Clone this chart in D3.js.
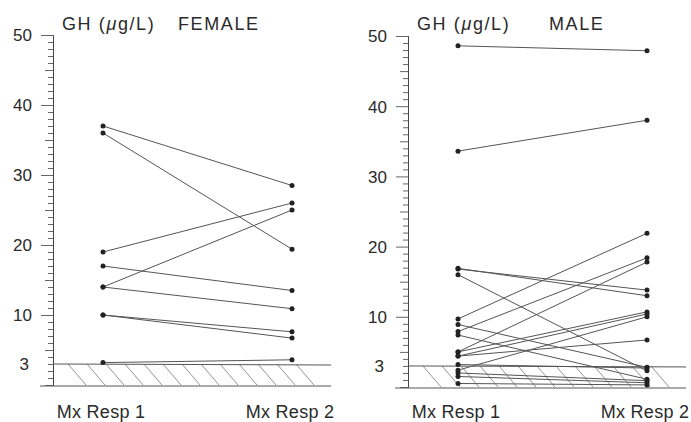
<!DOCTYPE html>
<html>
<head>
<meta charset="utf-8">
<script src="https://cdn.jsdelivr.net/npm/d3@7"></script>
<style>
body { margin: 0; background: #fff; }
svg text { font-family: "Liberation Sans", Arial, sans-serif; fill: #2a2a2a; }
</style>
</head>
<body>
<script>
// values (GH, ug/L)
var femaleResp1 = [37, 36, 19, 17, 14, 14, 10, 10, 3.2];
var femaleResp2 = [28.5, 19.4, 26, 13.5, 25, 10.9, 7.6, 6.7, 3.6];

var maleResp1 = [48.6, 33.6, 16.8, 16.9, 16.0, 9.7, 8.9, 7.9, 7.4, 5.0, 5.0, 4.4, 4.4, 3.2, 2.4, 2.0, 1.5, 0.5];
var maleResp2 = [47.9, 38.0, 13.8, 13.0, 2.3, 21.9, 2.8, 18.4, 1.1, 17.8, 10.7, 6.7, 10.4, 2.7, 10.0, 0.9, 0.6, 0.3];

var xLabels = ["Mx Resp 1", "Mx Resp 2"];
var majorTicks = [10, 20, 30, 40, 50];
var limit = 3;

function graph(){
	var svg = d3.select("body")
				.append("svg")
				.attr("width", 691)
				.attr("height", 422);

	panel(svg, 0, femaleResp1, femaleResp2, "FEMALE", 178, [385, 35]);
	panel(svg, 355, maleResp1, maleResp2, "MALE", 549, [387, 36]);
}

function panel(svg, dx, resp1, resp2, sex, sexX, yRange){
	var g = svg.append("g").attr("transform", "translate(" + dx + ",0)");

	var yScale = d3.scaleLinear().domain([0, 50]).range(yRange);
	var xScale = d3.scalePoint().domain(xLabels).range([103, 292]);

	// minor ticks every unit, longer ones at the fives
	var minorAxis = d3.axisLeft().scale(yScale)
		.tickValues(d3.range(0, 51).filter(function(v){ return v % 10 != 0 || v == 0; }))
		.tickSize(5)
		.tickFormat("");
	var midTicks = g.append("g")
		.attr("transform", "translate(53,0)")
		.call(minorAxis);
	midTicks.selectAll(".tick line")
		.attr("x2", function(v){ return v % 5 == 0 ? -8 : -5; });

	var majorAxis = d3.axisLeft().scale(yScale)
		.tickValues(majorTicks)
		.tickSize(12)
		.tickPadding(9)
		.tickSizeOuter(0);
	var yAx = g.append("g")
		.attr("transform", "translate(53,0)")
		.call(majorAxis);
	yAx.selectAll("text").style("font-size", "17px").attr("dy", "0.35em");

	g.selectAll(".domain").attr("stroke", "#444");
	g.selectAll(".tick line").attr("stroke", "#666");

	g.append("text")
		.attr("x", 29)
		.attr("y", yScale(limit) + 6)
		.attr("text-anchor", "end")
		.style("font-size", "17px")
		.text(limit);

	// hatched area below the detection limit
	var top = yScale(limit), bottom = yScale(0);
	var hatch = d3.range(68, 310, 19);
	g.selectAll(".hatch")
		.data(hatch)
		.enter()
		.append("line")
		.attr("x1", function(d){ return d; })
		.attr("x2", function(d){ return d + 18; })
		.attr("y1", top)
		.attr("y2", bottom)
		.attr("stroke", "#777")
		.attr("stroke-width", 0.8);

	g.append("line")
		.attr("x1", 53).attr("x2", 331)
		.attr("y1", top).attr("y2", top + 1)
		.attr("stroke", "#555");
	g.append("line")
		.attr("x1", 40).attr("x2", 331)
		.attr("y1", bottom + 1).attr("y2", bottom + 1)
		.attr("stroke", "#555");

	var pairs = resp1.map(function(v, i){ return [v, resp2[i]]; });

	g.selectAll(".pair")
		.data(pairs)
		.enter()
		.append("line")
		.attr("x1", xScale(xLabels[0]))
		.attr("x2", xScale(xLabels[1]))
		.attr("y1", function(d){ return yScale(d[0]); })
		.attr("y2", function(d){ return yScale(d[1]); })
		.attr("stroke", "#555")
		.attr("stroke-width", 1);

	g.selectAll(".dot1")
		.data(resp1)
		.enter()
		.append("circle")
		.attr("r", 2.5)
		.attr("fill", "#222")
		.attr("cx", xScale(xLabels[0]))
		.attr("cy", function(d){ return yScale(d); });

	g.selectAll(".dot2")
		.data(resp2)
		.enter()
		.append("circle")
		.attr("r", 2.5)
		.attr("fill", "#222")
		.attr("cx", xScale(xLabels[1]))
		.attr("cy", function(d){ return yScale(d); });

	g.selectAll(".xlab")
		.data(xLabels)
		.enter()
		.append("text")
		.attr("x", function(d){ return xScale(d) - 2; })
		.attr("y", 418)
		.attr("text-anchor", "middle")
		.style("font-size", "18px")
		.style("letter-spacing", "0.3px")
		.text(function(d){ return d; });

	g.append("text")
		.attr("x", 62)
		.attr("y", 30)
		.style("font-size", "18px")
		.style("letter-spacing", "1.6px")
		.html("GH (<tspan font-style='italic'>\u03bc</tspan>g/L)");

	g.append("text")
		.attr("x", sexX - dx)
		.attr("y", 30)
		.style("font-size", "18px")
		.style("letter-spacing", "1.6px")
		.text(sex);
}

graph()
</script>
</body>
</html>
